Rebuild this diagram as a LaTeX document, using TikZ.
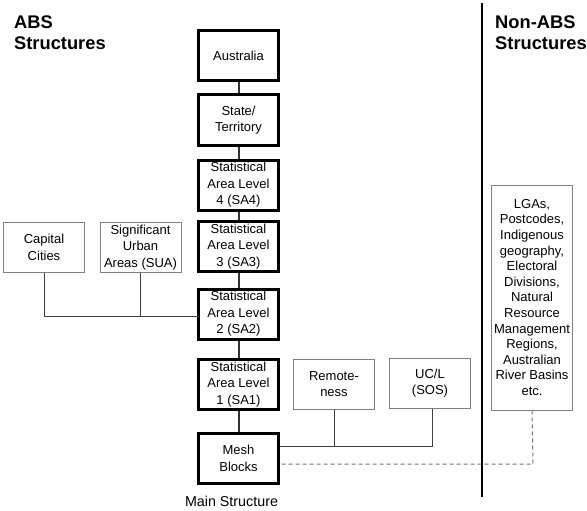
\documentclass[tikz,border=0pt]{standalone}
\usepackage{fontspec}
\setmainfont{Liberation Sans}
\usetikzlibrary{positioning}
\tikzset{
  main box/.style={draw=black, line width=3pt, minimum width=79.5pt, minimum height=50pt, inner sep=0pt, align=center, font=\fontsize{13}{16.6}\selectfont},
  side box/.style={draw=black!50, line width=1pt, minimum width=81pt, minimum height=50pt, inner sep=0pt, align=center, font=\fontsize{13}{16.6}\selectfont},
  main link/.style={draw=black!80, line width=2pt},
  side link/.style={draw=black!75, line width=1pt},
  dash link/.style={draw=black!55, line width=1pt, dash pattern=on 4pt off 3pt},
  title/.style={anchor=north west, inner sep=0pt, align=left, font=\fontsize{18.3}{21}\selectfont\bfseries}
}

\begin{document}
\begin{tikzpicture}[x=1pt, y=-1pt]
	\useasboundingbox (0,0) rectangle (587,511);
	
	% titles
	\node[title] (abs) at (14,16) {ABS\\Structures};
	\node[title] (nonabs title) at (495,16) {Non-ABS\\Structures};
	
	% main structure
	\node[main box] (aus) at (238.5,55.5) {Australia};
	\node[main box] (state) at (238.5,120) {State/\\Territory};
	\node[main box] (sa4) at (238.5,185) {Statistical\\Area Level\\4 (SA4)};
	\node[main box] (sa3) at (238.5,246.5) {Statistical\\Area Level\\3 (SA3)};
	\node[main box] (sa2) at (238.5,314) {Statistical\\Area Level\\2 (SA2)};
	\node[main box] (sa1) at (238.5,384.5) {Statistical\\Area Level\\1 (SA1)};
	\node[main box] (mesh) at (238.5,458.5) {Mesh\\Blocks};
	\node[anchor=base, inner sep=0pt, font=\fontsize{14.3}{17}\selectfont] (mainlabel) at (231.5,506) {Main Structure};
	
	% other ABS structures
	\node[side box] (cc) at (44,247.5) {Capital\\Cities};
	\node[side box] (sua) at (140.5,247.5) {Significant\\Urban\\Areas (SUA)};
	\node[side box] (rem) at (334,384) {Remote-\\ness};
	\node[side box] (ucl) at (430,383) {UC/L\\(SOS)};
	
	% non-ABS structures
	\node[side box, minimum height=225pt, font=\fontsize{13}{15.6}\selectfont] (other) at (532,297.5) {LGAs,\\Postcodes,\\Indigenous\\geography,\\Electoral\\Divisions,\\Natural\\Resource\\Management\\Regions,\\Australian\\River Basins\\etc.};
	
	\coordinate (leftbus) at (198.5,316);
	\coordinate (rightbus) at (432,446);
	\coordinate (dashbus) at (533,464);
	\coordinate (divtop) at (481.5,3);
	\coordinate (divbot) at (481.5,497);
	
	% links
	\draw[main link] (aus) -- (state);
	\draw[main link] (state) -- (sa4);
	\draw[main link] (sa4) -- (sa3);
	\draw[main link] (sa3) -- (sa2);
	\draw[main link] (sa2) -- (sa1);
	\draw[main link] (sa1) -- (mesh);
	
	\draw[side link] (cc.south) |- (leftbus);
	\draw[side link] (sua.south) -- (sua.south |- leftbus);
	
	\draw[side link] (mesh.east |- rightbus) -- (rightbus) -- (ucl.south -| rightbus);
	\draw[side link] (rem.south) -- (rem.south |- rightbus);
	
	\draw[dash link] (other.south) -- (dashbus) -- (mesh.east |- dashbus);
	
	% divider
	\draw[line width=2pt] (divtop) -- (divbot);
\end{tikzpicture}
\end{document}
